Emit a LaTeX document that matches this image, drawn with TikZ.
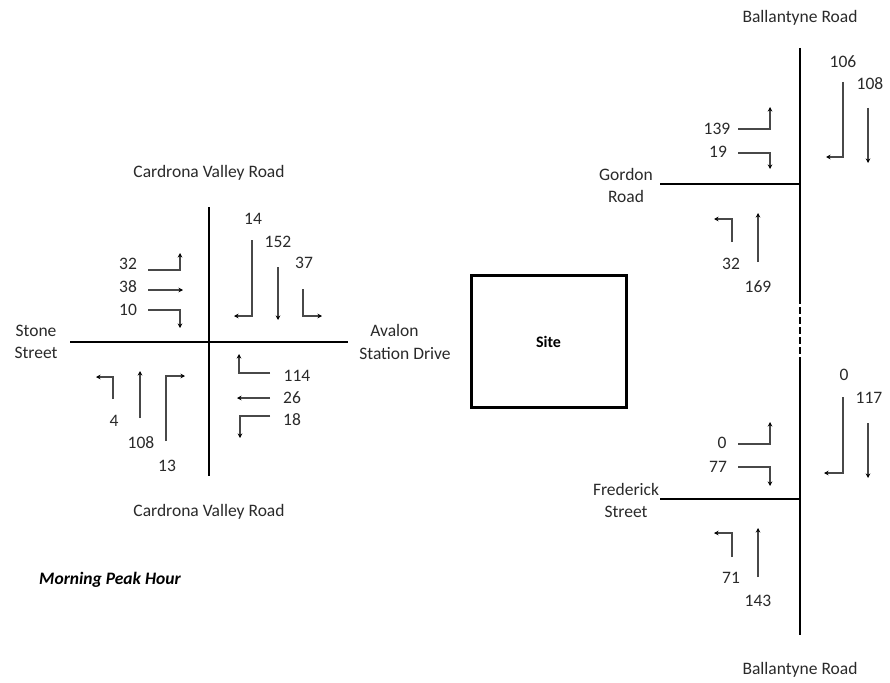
\documentclass[tikz,border=0pt]{standalone}
\usepackage{fontspec}
\setmainfont{Carlito}
\usetikzlibrary{arrows.meta}
\definecolor{txt}{HTML}{2A2A2A}
\definecolor{mvc}{HTML}{484848}
\begin{document}
\begin{tikzpicture}[x=1pt,y=-1pt,
  road/.style={line width=2.8pt,black},
  mv/.style={line width=1.3pt,draw=mvc,-{Stealth[length=4.5pt,width=4.5pt,black]}},
  lbl/.style={text=txt,font=\fontsize{17.5}{22.5}\selectfont,inner sep=0pt,align=center},
  num/.style={text=txt,font=\fontsize{17.5}{20}\selectfont,inner sep=0pt}]
\useasboundingbox[fill=white] (0,0) rectangle (890,682);
% ---------- left intersection ----------
\draw[road] (209,207) -- (209,476);
\draw[road] (70,342) -- (348,342);
\node[lbl] (cvrN) at (209,173) {Cardrona Valley Road};
\node[lbl] (cvrS) at (209,512) {Cardrona Valley Road};
\node[lbl] (stone) at (36,342) {Stone\\Street};
\node[lbl,align=left] (avalon) at (405,342) {\hspace*{11pt}Avalon\\Station Drive};
% west approach
\node[num] (n32) at (128,264) {32};
\draw[mv] (148,270) -- (180,270) -- (180,253);
\node[num] (n38) at (128,287) {38};
\draw[mv] (148,290) -- (183,290);
\node[num] (n10) at (128,310) {10};
\draw[mv] (148,310) -- (180,310) -- (180,328);
% north approach
\node[num] (n14) at (253,219) {14};
\draw[mv] (252,240) -- (252,316) -- (234,316);
\node[num] (n152) at (278,242) {152};
\draw[mv] (278,267) -- (278,320);
\node[num] (n37) at (304,263) {37};
\draw[mv] (303,289) -- (303,316) -- (322,316);
% south approach
\node[num] (n4) at (114,421) {4};
\draw[mv] (113,399) -- (113,377) -- (96,377);
\node[num] (n108) at (141,443) {108};
\draw[mv] (140,418) -- (140,371);
\node[num] (n13) at (167,466) {13};
\draw[mv] (166,441) -- (166,376) -- (185,376);
% east approach
\node[num] (n114) at (297,376) {114};
\draw[mv] (270,373) -- (239,373) -- (239,354);
\node[num] (n26) at (292,398) {26};
\draw[mv] (270,398) -- (237,398);
\node[num] (n18) at (292,420) {18};
\draw[mv] (270,416) -- (240,416) -- (240,438);
% ---------- site ----------
\node[draw,line width=3pt,minimum width=155pt,minimum height=132pt,inner sep=0pt,
      font=\fontsize{16}{18}\selectfont\bfseries] (site) at (548.5,341.5) {Site};
% ---------- right side ----------
\draw[road] (800,48) -- (800,297);
\draw[line width=2.8pt,dash pattern=on 7pt off 3pt] (800,297) -- (800,360);
\draw[road] (800,360) -- (800,635);
\draw[road] (660,184) -- (800,184);
\draw[road] (660,499) -- (800,499);
\node[lbl] (ballN) at (800,18) {Ballantyne Road};
\node[lbl] (ballS) at (800,670) {Ballantyne Road};
\node[lbl] (gordon) at (626,185.5) {Gordon\\Road};
\node[lbl] (fred) at (626,500.5) {Frederick\\Street};
% Gordon Road
\node[num] (n106) at (843,62) {106};
\draw[mv] (843,82) -- (843,157) -- (826,157);
\node[num] (n108b) at (870,84) {108};
\draw[mv] (868,108) -- (868,163);
\node[num] (n139) at (717,129) {139};
\draw[mv] (738,129) -- (770,129) -- (770,107);
\node[num] (n19) at (718,152) {19};
\draw[mv] (738,153) -- (770,153) -- (770,169);
\node[num] (n32b) at (731,264) {32};
\draw[mv] (732,242) -- (732,219) -- (714,219);
\node[num] (n169) at (758,287) {169};
\draw[mv] (758,262) -- (758,213);
% Frederick Street
\node[num] (n0a) at (844,375) {0};
\draw[mv] (843,397) -- (843,473) -- (824,473);
\node[num] (n117) at (869,398) {117};
\draw[mv] (868,423) -- (868,478);
\node[num] (n0b) at (722,443) {0};
\draw[mv] (738,444) -- (770,444) -- (770,422);
\node[num] (n77) at (718,467) {77};
\draw[mv] (738,467) -- (770,467) -- (770,486);
\node[num] (n71) at (731,578) {71};
\draw[mv] (732,557) -- (732,533) -- (714,533);
\node[num] (n143) at (758,601) {143};
\draw[mv] (758,577) -- (758,528);
% caption
\node[font=\fontsize{17.5}{20}\selectfont\bfseries\itshape,inner sep=0pt] (cap) at (110,580) {Morning Peak Hour};
\end{tikzpicture}
\end{document}
